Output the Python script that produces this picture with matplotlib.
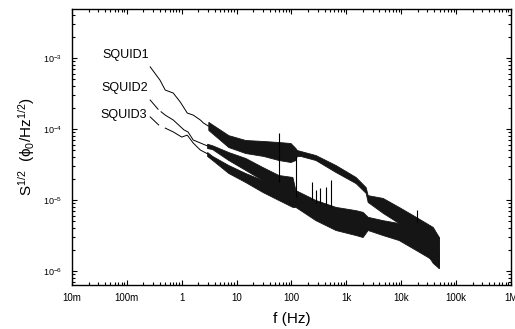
import numpy as np
import matplotlib.pyplot as plt

plt.rcParams['font.family'] = ['Liberation Sans', 'DejaVu Sans']
plt.rcParams['mathtext.fontset'] = 'custom'
plt.rcParams['mathtext.rm'] = 'Liberation Sans'
plt.rcParams['mathtext.it'] = 'Liberation Sans:italic'
plt.rcParams['mathtext.default'] = 'regular'

# low frequency part (thin single trace), f in Hz, S^1/2 in phi0/Hz^1/2
f1_low = [0.266, 0.40, 0.50, 0.70, 0.94, 1.26, 1.62, 2.18, 2.47, 3.05]
s1_low = [7.5e-4, 4.9e-4, 3.54e-4, 3.21e-4, 2.4e-4, 1.68e-4, 1.57e-4, 1.34e-4, 1.22e-4, 1.1e-4]

f2_low = [0.266, 0.37, np.nan, 0.42, 0.50, 0.70, 1.1, 1.3, 1.62, 2.9]
s2_low = [2.56e-4, 1.9e-4, np.nan, 1.75e-4, 1.57e-4, 1.34e-4, 9.7e-5, 9.1e-5, 7.0e-5, 5.8e-5]

f3_low = [0.266, 0.38, np.nan, 0.50, 0.70, 1.0, 1.26, 1.62, 2.18, 2.9]
s3_low = [1.48e-4, 1.14e-4, np.nan, 1.03e-4, 9.1e-5, 7.7e-5, 8.2e-5, 6.35e-5, 5.06e-5, 4.5e-5]

# noisy band above ~3 Hz: upper / lower envelope
f1_band = [3.05, 7.07, 14.4, 30.8, 58, 96, 118, 125, 146, 274, 636, 1476,
           2249, 2445, 4590, 9000, 18400, 37600, 48400]
s1_hi = [1.26e-4, 8.2e-5, 7.0e-5, 6.78e-5, 6.56e-5, 6.35e-5, 5.4e-5, 5.06e-5,
         4.9e-5, 4.3e-5, 3.11e-5, 2.11e-5, 1.52e-5, 1.17e-5, 1.07e-5, 8.0e-6,
         5.8e-6, 4.17e-6, 3.01e-6]
s1_lo = [9.7e-5, 5.57e-5, 4.59e-5, 4.17e-5, 3.66e-5, 3.43e-5, 3.66e-5, 4.17e-5,
         4.17e-5, 3.66e-5, 2.48e-5, 1.73e-5, 1.26e-5, 9.4e-6, 6.6e-6, 4.74e-6,
         3.01e-6, 1.30e-6, 1.10e-6]

f23_band = [2.9, 3.6, 7.07, 14.4, 29.5, 58, 104, 118, 274, 636, 1476, 1980,
            2445, 4590, 9000, 18400, 37600, 48400]
s2_hi = [6.2e-5, 5.9e-5, 4.74e-5, 3.91e-5, 2.92e-5, 2.25e-5, 2.11e-5, 1.38e-5,
         1.0e-5, 8.0e-6, 7.2e-6, 6.8e-6, 5.8e-6, 5.2e-6, 4.74e-6, 4.04e-6, 3.43e-6, 3.01e-6]
s2_lo = [5.4e-5, 5.2e-5, 3.66e-5, 2.65e-5, 1.91e-5, 1.38e-5, 1.17e-5, 9.1e-6,
         6.8e-6, 5.2e-6, 4.45e-6, 4.3e-6, 4.3e-6, 3.78e-6, 3.21e-6, 2.32e-6, 1.52e-6, 1.22e-6]
s3_hi = [4.74e-5, 4.17e-5, 3.11e-5, 2.4e-5, 1.91e-5, 1.52e-5, 1.38e-5, 1.26e-5,
         7.2e-6, 5.57e-6, 4.9e-6, 4.9e-6, 4.9e-6, 4.45e-6, 4.04e-6, 3.21e-6, 2.32e-6, 1.98e-6]
s3_lo = [4.17e-5, 3.66e-5, 2.4e-5, 1.79e-5, 1.3e-5, 1.0e-5, 8.0e-6, 8.0e-6,
         5.2e-6, 3.78e-6, 3.21e-6, 3.01e-6, 3.78e-6, 3.21e-6, 2.73e-6, 1.98e-6, 1.43e-6, 1.1e-6]

# line-frequency spikes
spike_f = [60, 120, 240, 280, 330, 420, 520, 19200]
spike_top = [8.8e-5, 4.17e-5, 1.82e-5, 1.38e-5, 1.48e-5, 1.52e-5, 1.9e-5, 7.2e-6]
spike_bot = [1.79e-5, 1.10e-5, 1.0e-5, 9.1e-6, 9.1e-6, 8.5e-6, 8.0e-6, 4.9e-6]

names = ['SQUID1', 'SQUID2', 'SQUID3']
name_f = [0.25, 0.245, 0.235]
name_s = [1.1e-3, 3.8e-4, 1.58e-4]

xticks = [1e-2, 1e-1, 1, 10, 100, 1e3, 1e4, 1e5, 1e6]
xticklabels = ['10m', '100m', '1', '10', '100', '1k', '10k', '100k', '1M']

fig = plt.figure(figsize=(5.15, 3.29), dpi=100)
ax = fig.add_axes([0.1398, 0.1337, 0.8524, 0.8389])

for f, s in [(f1_low, s1_low), (f2_low, s2_low), (f3_low, s3_low)]:
    ax.plot(f, s, color='black', lw=0.7)

ax.fill_between(f1_band, s1_lo, s1_hi, color='#151515', lw=0.6)
ax.fill_between(f23_band, s2_lo, s2_hi, color='#151515', lw=0.6)
ax.fill_between(f23_band, s3_lo, s3_hi, color='#151515', lw=0.6)
ax.vlines(spike_f, spike_bot, spike_top, color='black', lw=0.8)

for n, x, y in zip(names, name_f, name_s):
    ax.text(x, y, n, ha='right', va='center', fontsize=9)

ax.set_xscale('log')
ax.set_yscale('log')
ax.set_xlim(1e-2, 1e6)
ax.set_ylim(6.35e-7, 4.9e-3)
ax.set_xticks(xticks)
ax.set_xticklabels(xticklabels)
ax.tick_params(which='both', direction='in', top=True, right=True, width=0.8)
ax.tick_params(which='major', length=3.5)
ax.tick_params(which='minor', length=2)
ax.tick_params(axis='x', labelsize=7, pad=6)
ax.tick_params(axis='y', labelsize=6.5, pad=7)
for sp in ax.spines.values():
    sp.set_linewidth(1.0)

ax.set_xlabel('f (Hz)', fontsize=11, labelpad=6)
ax.set_ylabel(r'S$^{1/2}$  ($\phi_0$/Hz$^{1/2}$)', fontsize=11, labelpad=4)

plt.savefig('out.png', dpi=100)
